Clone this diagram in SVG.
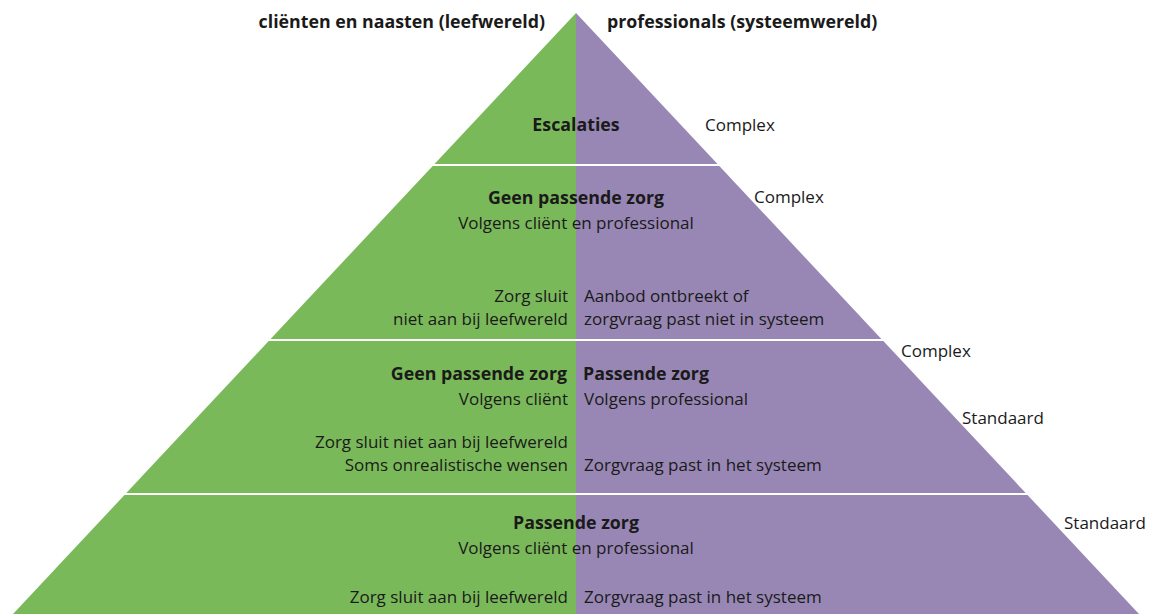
<svg xmlns="http://www.w3.org/2000/svg" width="1151" height="614" viewBox="0 0 1151 614">
<style>
.g{fill:#7ab95a}
.p{fill:#9887b4}
text{font-family:"Open Sans","Noto Sans",sans-serif;font-size:17px;fill:#1a1a1a}
.b{font-weight:bold;font-size:17.8px}
.m{text-anchor:middle}
.e{text-anchor:end}
</style>
<rect width="1151" height="614" fill="#fff"/>
<text class="b e" x="545" y="28">cliënten en naasten (leefwereld)</text>
<text class="b" x="607" y="28">professionals (systeemwereld)</text>
<g id="tier1">
<polygon class="g" points="576,13 434.5,164 576,164"/>
<polygon class="p" points="576,13 717.5,164 576,164"/>
<text class="b m" x="576" y="131">Escalaties</text>
<text x="705" y="131">Complex</text>
</g>
<g id="tier2">
<polygon class="g" points="432.7,166 576,166 576,339 270.6,339"/>
<polygon class="p" points="576,166 719.3,166 881.4,339 576,339"/>
<text class="b m" x="576" y="204">Geen passende zorg</text>
<text class="m" x="576" y="229">Volgens cliënt en professional</text>
<text x="754" y="203">Complex</text>
<text class="e" x="568" y="302">Zorg sluit</text>
<text class="e" x="568" y="325">niet aan bij leefwereld</text>
<text x="584" y="302">Aanbod ontbreekt of</text>
<text x="584" y="325">zorgvraag past niet in systeem</text>
</g>
<g id="tier3">
<polygon class="g" points="268.7,341 576,341 576,493 126.3,493"/>
<polygon class="p" points="576,341 883.3,341 1025.7,493 576,493"/>
<text x="901" y="357">Complex</text>
<text class="b e" x="567" y="380">Geen passende zorg</text>
<text class="b" x="583" y="380">Passende zorg</text>
<text class="e" x="568" y="405">Volgens cliënt</text>
<text x="584" y="405">Volgens professional</text>
<text x="962" y="424">Standaard</text>
<text class="e" x="568" y="448">Zorg sluit niet aan bij leefwereld</text>
<text class="e" x="568" y="471">Soms onrealistische wensen</text>
<text x="584" y="471">Zorgvraag past in het systeem</text>
</g>
<g id="tier4">
<polygon class="g" points="124.5,495 576,495 576,614 13,614"/>
<polygon class="p" points="576,495 1027.5,495 1139,614 576,614"/>
<text class="b m" x="576" y="529">Passende zorg</text>
<text class="m" x="576" y="554">Volgens cliënt en professional</text>
<text x="1064" y="529">Standaard</text>
<text class="e" x="568" y="603">Zorg sluit aan bij leefwereld</text>
<text x="584" y="603">Zorgvraag past in het systeem</text>
</g>
<g id="connectors"></g>
</svg>
